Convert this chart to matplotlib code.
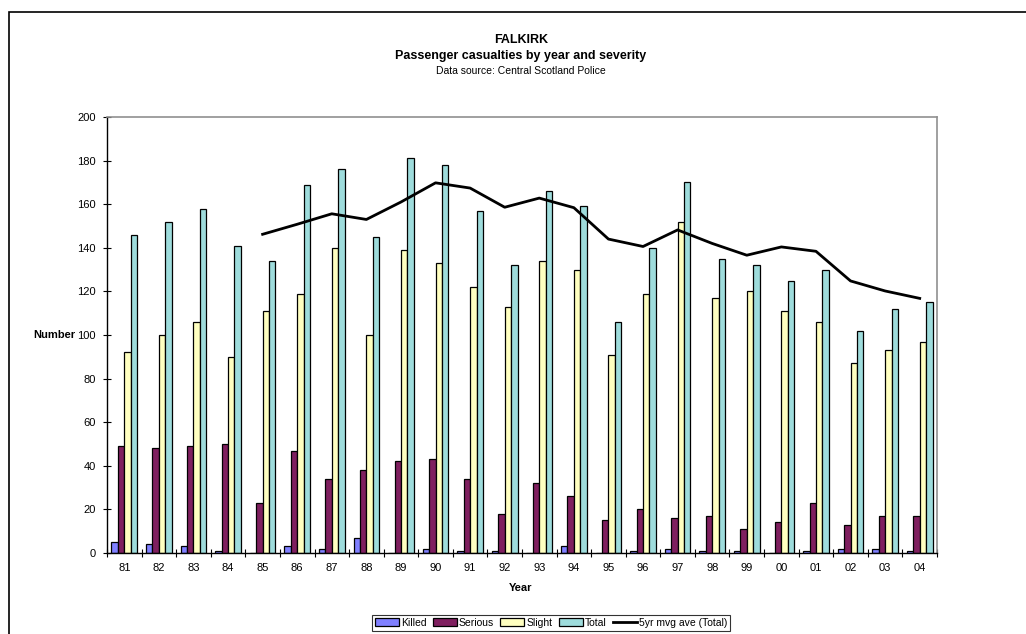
import numpy as np
import matplotlib.pyplot as plt
from matplotlib.patches import Rectangle

plt.rcParams['font.family'] = ['Liberation Sans', 'DejaVu Sans']

years = ['81', '82', '83', '84', '85', '86', '87', '88', '89', '90', '91', '92',
         '93', '94', '95', '96', '97', '98', '99', '00', '01', '02', '03', '04']
killed = [5, 4, 3, 1, 0, 3, 2, 7, 0, 2, 1, 1, 0, 3, 0, 1, 2, 1, 1, 0, 1, 2, 2, 1]
serious = [49, 48, 49, 50, 23, 47, 34, 38, 42, 43, 34, 18, 32, 26, 15, 20, 16, 17,
           11, 14, 23, 13, 17, 17]
slight = [92, 100, 106, 90, 111, 119, 140, 100, 139, 133, 122, 113, 134, 130, 91,
          119, 152, 117, 120, 111, 106, 87, 93, 97]
total = [146, 152, 158, 141, 134, 169, 176, 145, 181, 178, 157, 132, 166, 159, 106,
         140, 170, 135, 132, 125, 130, 102, 112, 115]
# 5yr moving average of total, from 85 onwards
mvg_years = years[4:]
mvg_ave = [146.2, 150.8, 155.6, 153.0, 161.0, 169.8, 167.4, 158.6, 162.8, 158.4,
           144.0, 140.6, 148.2, 142.0, 136.6, 140.4, 138.4, 124.8, 120.2, 116.8]

series = [('Killed', killed, '#8080FF'),
          ('Serious', serious, '#7F1F5F'),
          ('Slight', slight, '#FFFFC0'),
          ('Total', total, '#9EDCDC')]

W, H = 1026, 634
fig = plt.figure(figsize=(W / 100, H / 100), dpi=100)
ax = fig.add_axes([107 / W, 1 - 553 / H, (937 - 107) / W, (553 - 117) / H])

x = np.arange(len(years))
bw = 0.185
handles = []
for i, (name, vals, col) in enumerate(series):
    b = ax.bar(x + (i - 1.5) * bw, vals, bw, color=col, edgecolor='black',
               linewidth=0.9, label=name, zorder=2)
    handles.append(b)

mx = [years.index(y) for y in mvg_years]
ln, = ax.plot(mx, mvg_ave, color='black', lw=2.0, label='5yr mvg ave (Total)', zorder=3)
handles.append(ln)

ax.set_xlim(-0.5, len(years) - 0.5)
ax.set_ylim(0, 200)
ax.set_yticks(range(0, 201, 20))
ax.set_xticks(np.arange(-0.5, len(years), 1.0))
ax.set_xticklabels([])
ax.set_xticks(x, minor=True)
ax.set_xticklabels(years, minor=True)
ax.tick_params(axis='x', which='major', direction='inout', length=6, width=0.8)
ax.tick_params(axis='x', which='minor', length=0, pad=7, labelsize=8)
ax.tick_params(axis='y', direction='inout', length=6, width=0.8, pad=5, labelsize=8)

for s in ['top', 'right']:
    ax.spines[s].set_color('#909090')
    ax.spines[s].set_linewidth(1.2)
for s in ['left', 'bottom']:
    ax.spines[s].set_linewidth(1.0)

fig.text(75 / W, 1 - 335 / H, 'Number', ha='right', va='center',
         fontsize=8, fontweight='bold')
fig.text(521 / W, 1 - 588 / H, 'Year', ha='center', va='center',
         fontsize=8, fontweight='bold')
fig.text(521 / W, 1 - 40 / H, 'FALKIRK', ha='center', va='center',
         fontsize=9, fontweight='bold')
fig.text(521 / W, 1 - 56 / H, 'Passenger casualties by year and severity',
         ha='center', va='center', fontsize=9, fontweight='bold')
fig.text(521 / W, 1 - 71 / H, 'Data source: Central Scotland Police',
         ha='center', va='center', fontsize=7.5)

leg = fig.legend(handles=handles, loc='center', bbox_to_anchor=(551 / W, 1 - 623 / H),
                 ncol=5, fontsize=7.5, frameon=True, fancybox=False, edgecolor='black',
                 handlelength=2.3, handleheight=0.8, handletextpad=0.2,
                 columnspacing=0.6, borderpad=0.3, borderaxespad=0)
leg.get_frame().set_linewidth(0.8)

fig.patches.append(Rectangle((9 / W, -0.1), 1.2, 1.1 - 12 / H, transform=fig.transFigure,
                             fill=False, edgecolor='black', lw=1.2))

fig.savefig('out.png', dpi=100)
